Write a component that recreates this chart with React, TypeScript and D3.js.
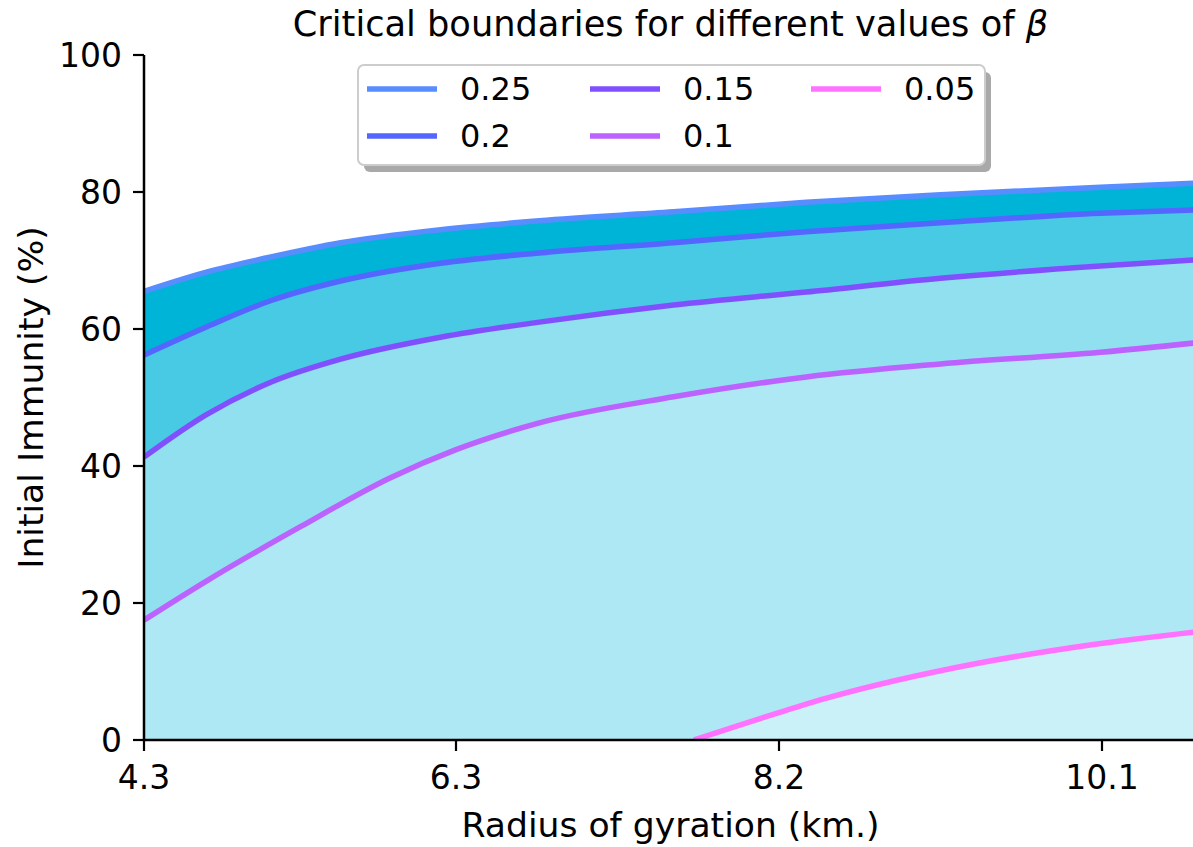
import React from "react";
import * as d3 from "d3";

// ---- data ----
const betaLabels = ["0.25", "0.2", "0.15", "0.1", "0.05"];

const radius025 = [4.3, 4.7, 5.09, 5.56, 6.2, 6.79, 7.58, 8.36, 9.15, 10.09, 10.66];
const immunity025 = [65.5, 68.3, 70.4, 72.6, 74.5, 75.8, 77.1, 78.5, 79.6, 80.7, 81.3];

const radius020 = [4.3, 4.7, 5.12, 5.56, 6.2, 6.79, 7.58, 8.36, 9.15, 10.09, 10.66];
const immunity020 = [56.2, 60.3, 64.2, 67.0, 69.6, 71.1, 72.6, 74.2, 75.5, 76.9, 77.4];

const radius015 = [4.3, 4.7, 5.12, 5.56, 6.2, 6.79, 7.58, 8.36, 9.15, 10.09, 10.66];
const immunity015 = [41.3, 47.5, 52.3, 55.6, 58.8, 61.0, 63.5, 65.4, 67.4, 69.2, 70.1];

const radius010 = [4.3, 4.7, 5.3, 5.88, 6.3, 6.79, 7.58, 8.36, 9.15, 10.09, 10.66];
const immunity010 = [17.5, 23.2, 31.1, 38.3, 42.4, 46.3, 50.1, 53.0, 54.9, 56.6, 58.0];

const radius005 = [7.7, 8.2, 8.48, 9.37, 10.04, 10.66];
const immunity005 = [0, 4.0, 6.1, 11.2, 13.9, 15.8];

const xTickValues = [4.3, 6.3, 8.2, 10.1];
const xTickLabels = ["4.3", "6.3", "8.2", "10.1"];
const yTickValues = [0, 20, 40, 60, 80, 100];

const lineColors = ["#588dff", "#5565ff", "#8050ff", "#bb62ff", "#ff72ff"];
const fillColors = ["#00b4d8", "#48cae4", "#90e0ef", "#ade8f4", "#caf0f8"];

const W = 1193;
const H = 847;
const FONT = "'DejaVu Sans', sans-serif";

export default function App() {
  const left = 144;
  const right = 1197;
  const top = 55;
  const bottom = 740;

  const x = d3
    .scaleLinear()
    .domain(xTickValues)
    .range([144, 456, 779, 1102]);
  const y = d3.scaleLinear().domain([0, 100]).range([bottom, top]);

  const series = [
    { xs: radius025, ys: immunity025 },
    { xs: radius020, ys: immunity020 },
    { xs: radius015, ys: immunity015 },
    { xs: radius010, ys: immunity010 },
    { xs: radius005, ys: immunity005 },
  ].map((s) => s.xs.map((v, i) => [v, s.ys[i]] as [number, number]));

  const area = d3
    .area<[number, number]>()
    .x((d) => x(d[0]))
    .y0(y(0))
    .y1((d) => y(d[1]))
    .curve(d3.curveMonotoneX);
  const line = d3
    .line<[number, number]>()
    .x((d) => x(d[0]))
    .y((d) => y(d[1]))
    .curve(d3.curveMonotoneX);

  const legendCols = [367, 590, 811];
  const legendRows = [89, 136];

  return (
    <svg
      width={W}
      height={H}
      style={{ position: "absolute", left: 0, top: 0, background: "#fff" }}
      fontFamily={FONT}
    >
      <defs>
        <clipPath id="plotclip">
          <rect x={left} y={top} width={right - left} height={bottom - top} />
        </clipPath>
      </defs>

      <g clipPath="url(#plotclip)">
        {series.map((s, i) => (
          <path key={"a" + i} d={area(s) || ""} fill={fillColors[i]} />
        ))}
        {series.map((s, i) => (
          <path
            key={"l" + i}
            d={line(s) || ""}
            fill="none"
            stroke={lineColors[i]}
            strokeWidth={5.5}
          />
        ))}
      </g>

      {/* spines */}
      <line x1={left} x2={left} y1={top} y2={bottom + 1.2} stroke="#000" strokeWidth={2.5} />
      <line x1={left - 1.2} x2={right} y1={bottom} y2={bottom} stroke="#000" strokeWidth={2.5} />

      {/* y ticks */}
      {yTickValues.map((v) => (
        <g key={"y" + v}>
          <line x1={left - 11} x2={left} y1={y(v)} y2={y(v)} stroke="#000" strokeWidth={2.2} />
          <text
            x={left - 22}
            y={y(v)}
            textAnchor="end"
            dominantBaseline="central"
            fontSize={33}
            fill="#000"
          >
            {v}
          </text>
        </g>
      ))}

      {/* x ticks */}
      {xTickValues.map((v, i) => (
        <g key={"x" + v}>
          <line x1={x(v)} x2={x(v)} y1={bottom} y2={bottom + 11} stroke="#000" strokeWidth={2.2} />
          <text x={x(v)} y={789} textAnchor="middle" fontSize={33} fill="#000">
            {xTickLabels[i]}
          </text>
        </g>
      ))}

      {/* axis labels */}
      <text x={(left + right) / 2} y={837} textAnchor="middle" fontSize={34.6} fill="#000">
        Radius of gyration (km.)
      </text>
      <text
        transform={`translate(43,${(top + bottom) / 2}) rotate(-90)`}
        textAnchor="middle"
        fontSize={34.6}
        fill="#000"
      >
        Initial Immunity (%)
      </text>

      {/* title */}
      <text x={(left + right) / 2} y={36} textAnchor="middle" fontSize={35.2} fill="#000">
        Critical boundaries for different values of{" "}
        <tspan fontStyle="italic">β</tspan>
      </text>

      {/* legend */}
      <rect x={364} y={72} width={627} height={100} rx={6} fill="#a9a9a9" />
      <rect
        x={358}
        y={65}
        width={627}
        height={100}
        rx={6}
        fill="#fff"
        stroke="#cccccc"
        strokeWidth={2}
      />
      {betaLabels.map((lab, i) => {
        const col = Math.floor(i / 2);
        const row = i % 2;
        const lx = legendCols[col];
        const ly = legendRows[row];
        return (
          <g key={"lg" + lab}>
            <line x1={lx} x2={lx + 70} y1={ly} y2={ly} stroke={lineColors[i]} strokeWidth={5.5} />
            <text x={lx + 93} y={ly} dominantBaseline="central" fontSize={32} fill="#000">
              {lab}
            </text>
          </g>
        );
      })}
    </svg>
  );
}
